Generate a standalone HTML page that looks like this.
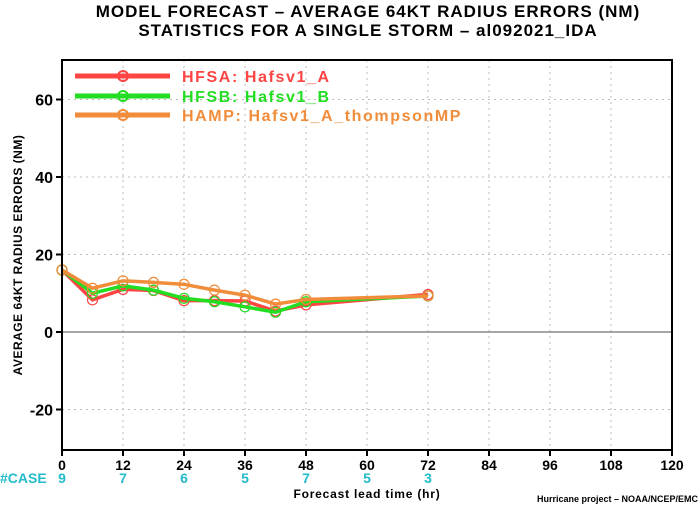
<!DOCTYPE html>
<html><head><meta charset="utf-8"><style>
body{margin:0;background:#fff;width:700px;height:506px;overflow:hidden}
svg{font-family:"Liberation Sans",sans-serif;font-weight:bold}
</style></head><body>
<svg id="chart" width="700" height="506" viewBox="0 0 700 506">
<text x="368" y="17" font-size="17" letter-spacing="1" text-anchor="middle">MODEL FORECAST – AVERAGE 64KT RADIUS ERRORS (NM)</text>
<text x="368" y="36" font-size="17" letter-spacing="1" text-anchor="middle">STATISTICS FOR A SINGLE STORM – al092021_IDA</text>
<g id="grid"></g>
<line x1="62" y1="332" x2="672" y2="332" stroke="#888" stroke-width="1.5"/>
<g id="series"></g>
<rect x="62" y="60" width="610" height="390" fill="none" stroke="#000" stroke-width="2"/>
<g id="axes"></g>
<g>
<g><line x1="75" y1="76" x2="170" y2="76" stroke="#ff4444" stroke-width="5"/><circle cx="123" cy="76" r="5" fill="none" stroke="#ff4444" stroke-width="2"/><text x="182" y="82" font-size="16" letter-spacing="1.6" fill="#ff4444">HFSA:  Hafsv1_A</text></g>
<g><line x1="75" y1="96" x2="170" y2="96" stroke="#22dd22" stroke-width="5"/><circle cx="123" cy="96" r="5" fill="none" stroke="#22dd22" stroke-width="2"/><text x="182" y="102" font-size="16" letter-spacing="1.6" fill="#22dd22">HFSB:  Hafsv1_B</text></g>
<g><line x1="75" y1="115" x2="170" y2="115" stroke="#f08c3a" stroke-width="5"/><circle cx="123" cy="115" r="5" fill="none" stroke="#f08c3a" stroke-width="2"/><text x="182" y="121" font-size="16" letter-spacing="1.6" fill="#f08c3a">HAMP:  Hafsv1_A_thompsonMP</text></g>
</g>
<text transform="translate(22,255) rotate(-90)" font-size="12" letter-spacing="0.5" text-anchor="middle">AVERAGE 64KT RADIUS ERRORS (NM)</text>
<text x="367" y="498" font-size="12" letter-spacing="0.8" text-anchor="middle">Forecast lead time (hr)</text>
<text x="0" y="483" font-size="14" fill="#22bbcc">#CASE</text>
<text x="698" y="502" font-size="9" text-anchor="end">Hurricane project – NOAA/NCEP/EMC</text>
</svg>
<script>
const leadTimes=[0,6,12,18,24,30,36,42,48,72];
const hfsa=[16,8.3,11,10.7,8.1,8.1,8,5.4,7,9.7];
const hfsb=[16,10,11.9,10.8,8.7,7.8,6.5,5.1,7.8,9.3];
const hamp=[16,11.3,13.2,12.8,12.3,10.8,9.5,7.2,8.4,9.3];
const xTicks=[0,12,24,36,48,60,72,84,96,108,120];
const yTicks=[-20,0,20,40,60];
const caseHours=[0,12,24,36,48,60,72];
const caseCounts=["9","7","6","5","7","5","3"];
const NS="http://www.w3.org/2000/svg";
const xs=v=>62+v*610/120;
const ys=v=>332-v*3.875;
function mk(t,a,p){const e=document.createElementNS(NS,t);for(const k in a)e.setAttribute(k,a[k]);p.appendChild(e);return e;}
const grid=document.getElementById('grid'),axes=document.getElementById('axes'),ser=document.getElementById('series');
xTicks.forEach(t=>{
 if(t>0&&t<120){const g=mk('line',{x1:xs(t),x2:xs(t),y1:60,y2:450,stroke:'#bbb','stroke-dasharray':'2,4'},grid);
 
 }
 const tk=mk('line',{x1:xs(t),x2:xs(t),y1:450,y2:456,stroke:'#000','stroke-width':2},axes);
 
 
 const l=mk('text',{x:xs(t),y:470,'font-size':14,'text-anchor':'middle'},axes);l.textContent=t;
 
 
});
yTicks.forEach(t=>{
 if(t!==0){const g=mk('line',{x1:62,x2:672,y1:ys(t),y2:ys(t),stroke:'#bbb','stroke-dasharray':'2,4'},grid);
 
 }
 const tk=mk('line',{x1:56,x2:62,y1:ys(t),y2:ys(t),stroke:'#000','stroke-width':2},axes);
 
 
 const l=mk('text',{x:53,y:ys(t)+6,'font-size':16,'text-anchor':'end'},axes);l.textContent=t;
 
 
});
caseHours.forEach((h,i)=>{
 const l=mk('text',{x:xs(h),y:483,'font-size':14,'text-anchor':'middle',fill:'#22bbcc'},axes);l.textContent=caseCounts[i];
 
 
});
[[hfsa,'#ff4444','hfsa'],[hfsb,'#22dd22','hfsb'],[hamp,'#f08c3a','hamp']].forEach(([d,c,n])=>{
 const g=mk('g',{},ser);
 
 
 const pl=mk('polyline',{points:d.map((v,i)=>xs(leadTimes[i])+','+ys(v)).join(' '),fill:'none',stroke:c,'stroke-width':3.5},g);
 
 
 d.forEach((v,i)=>{const p=mk('circle',{cx:xs(leadTimes[i]),cy:ys(v),r:5,fill:'none',stroke:c,'stroke-width':1.2},g);
 
 });
});
</script>
</body></html>
